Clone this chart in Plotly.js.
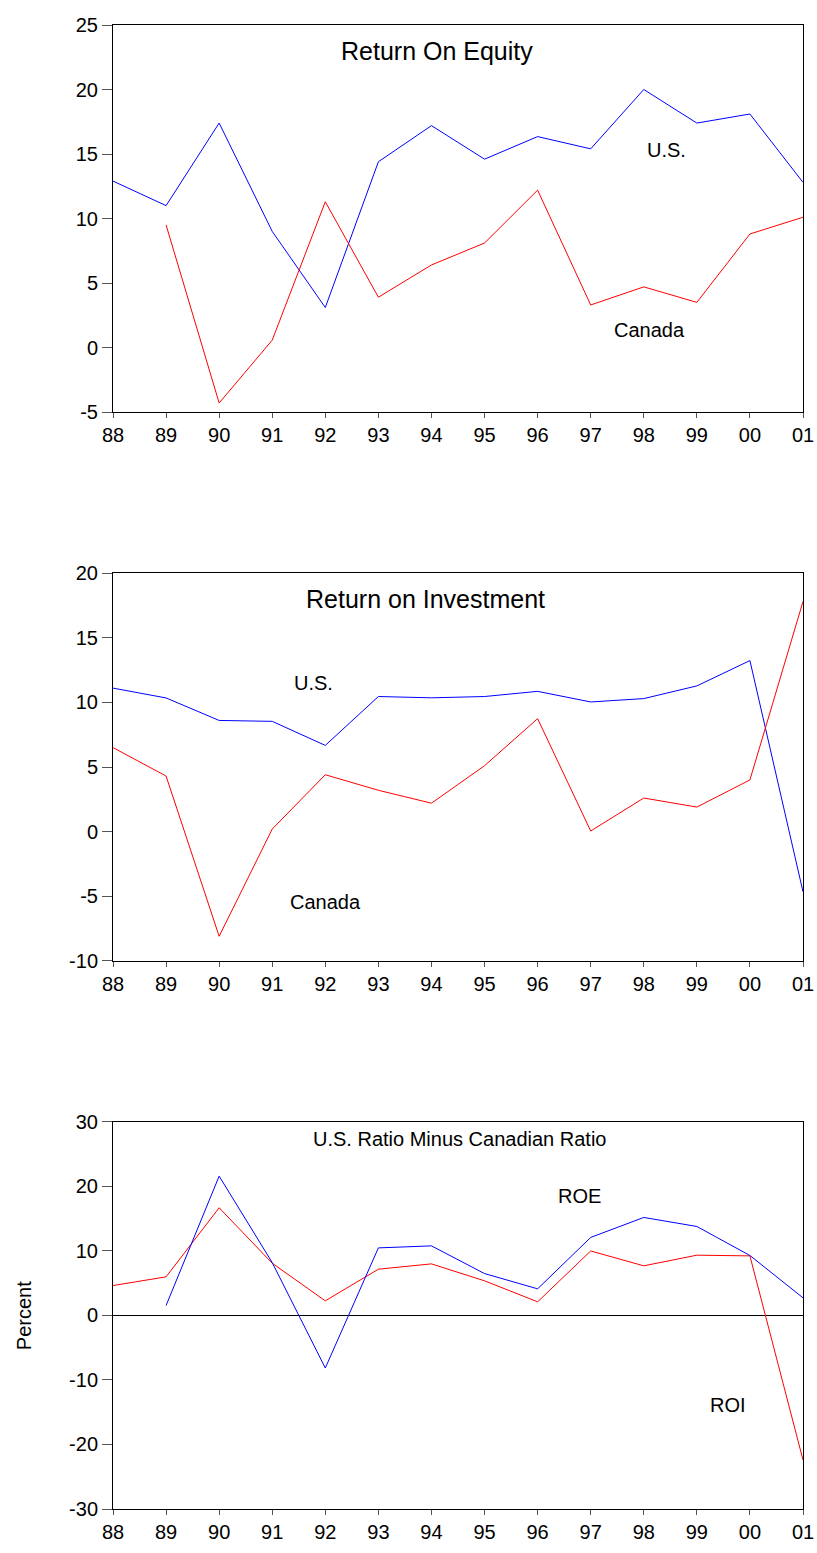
<!DOCTYPE html>
<html>
<head>
<meta charset="utf-8">
<script src="https://cdn.plot.ly/plotly-3.0.1.min.js"></script>
<style>html,body{margin:0;padding:0;background:#fff;}#chart{width:817px;height:1553px;}</style>
</head>
<body>
<div id="chart"></div>
<script>
const years = ['88','89','90','91','92','93','94','95','96','97','98','99','00','01'];

const roeUS     = [12.9, 11.0, 17.4, 9.0, 3.1, 14.4, 17.2, 14.6, 16.35, 15.4, 20.0, 17.4, 18.1, 12.8];
const roeCanada = [null, 9.5, -4.3, 0.57, 11.3, 3.9, 6.4, 8.1, 12.2, 3.3, 4.7, 3.5, 8.8, 10.1];

const roiUS     = [11.1, 10.34, 8.6, 8.53, 6.67, 10.45, 10.35, 10.45, 10.85, 10.03, 10.29, 11.27, 13.23, -4.65];
const roiCanada = [6.5, 4.3, -8.09, 0.2, 4.4, 3.2, 2.2, 5.1, 8.74, 0.05, 2.6, 1.9, 4.0, 17.8];

const diffROE = [null, 1.55, 21.6, 8.2, -8.14, 10.48, 10.79, 6.5, 4.13, 12.1, 15.2, 13.8, 9.3, 2.74];
const diffROI = [4.64, 5.99, 16.7, 8.1, 2.27, 7.18, 8.0, 5.37, 2.12, 10.0, 7.7, 9.35, 9.24, -22.4];

const panelTitles = ['Return On Equity', 'Return on Investment', 'U.S. Ratio Minus Canadian Ratio'];
const yTicks1 = [-5, 0, 5, 10, 15, 20, 25];
const yTicks2 = [-10, -5, 0, 5, 10, 15, 20];
const yTicks3 = [-30, -20, -10, 0, 10, 20, 30];
const yLabels1 = ['-5', '0', '5', '10', '15', '20', '25'];
const yLabels2 = ['-10', '-5', '0', '5', '10', '15', '20'];
const yLabels3 = ['-30', '-20', '-10', '0', '10', '20', '30'];

const BLUE = '#0000FF', RED = '#FF0000';
const FONT = 'Liberation Sans, Arial, Helvetica, sans-serif';

function line(y, color, xa, ya) {
  return {x: years, y: y, type: 'scatter', mode: 'lines', xaxis: xa, yaxis: ya,
          line: {color: color, width: 1}, connectgaps: false, hoverinfo: 'skip', showlegend: false};
}

const data = [
  line(roeUS, BLUE, 'x', 'y'),
  line(roeCanada, RED, 'x', 'y'),
  line(roiUS, BLUE, 'x2', 'y2'),
  line(roiCanada, RED, 'x2', 'y2'),
  line(diffROI, RED, 'x3', 'y3'),
  line(diffROE, BLUE, 'x3', 'y3')
];

function xax(anchor) {
  return {type: 'category', range: [0, 13], anchor: anchor, showgrid: false, zeroline: false,
          showline: true, mirror: true, linecolor: '#000', linewidth: 1,
          ticks: 'outside', ticklen: 5, tickcolor: '#555', tickwidth: 1,
          tickfont: {family: FONT, size: 20, color: '#000'}, fixedrange: true};
}
function yax(domain, range, tickvals, ticktext, anchor, zero) {
  return {domain: domain, range: range, tickmode: 'array', tickvals: tickvals, ticktext: ticktext,
          anchor: anchor, showgrid: false,
          zeroline: !!zero, zerolinecolor: '#000', zerolinewidth: 1,
          showline: true, mirror: true, linecolor: '#000', linewidth: 1,
          ticks: 'outside', ticklen: 10, tickcolor: '#555', tickwidth: 1,
          tickfont: {family: FONT, size: 20, color: '#000'}, fixedrange: true};
}

function ann(text, x, y, xr, yr, size) {
  return {text: text, x: x, y: y, xref: xr, yref: yr, showarrow: false,
          xanchor: 'center', yanchor: 'middle', font: {family: FONT, size: size, color: '#000'}};
}

const layout = {
  width: 817, height: 1553,
  margin: {l: 113, r: 14, t: 25, b: 44},
  paper_bgcolor: '#fff', plot_bgcolor: '#fff',
  showlegend: false,
  xaxis: xax('y'),
  yaxis: yax([0.7392, 1], [-5, 25], yTicks1, yLabels1, 'x'),
  xaxis2: xax('y2'),
  yaxis2: yax([0.3693, 0.6307], [-10, 20], yTicks2, yLabels2, 'x2'),
  xaxis3: xax('y3'),
  yaxis3: yax([0, 0.2608], [-30, 30], yTicks3, yLabels3, 'x3', true),
  annotations: [
    ann(panelTitles[0], 6.11, 22.96, 'x', 'y', 25),
    ann('U.S.', 10.43, 15.34, 'x', 'y', 20),
    ann('Canada', 10.11, 1.38, 'x', 'y', 20),
    ann(panelTitles[1], 5.88, 18.0, 'x2', 'y2', 25),
    ann('U.S.', 3.78, 11.47, 'x2', 'y2', 20),
    ann('Canada', 4.01, -5.43, 'x2', 'y2', 20),
    ann(panelTitles[2], 6.53, 27.35, 'x3', 'y3', 20),
    ann('ROE', 8.79, 18.6, 'x3', 'y3', 20),
    ann('ROI', 11.58, -13.95, 'x3', 'y3', 20),
    Object.assign(ann('Percent', -0.128, 0.5, 'paper', 'y3 domain', 20), {textangle: -90})
  ]
};

Plotly.newPlot('chart', data, layout, {staticPlot: true, displayModeBar: false});
</script>
</body>
</html>
